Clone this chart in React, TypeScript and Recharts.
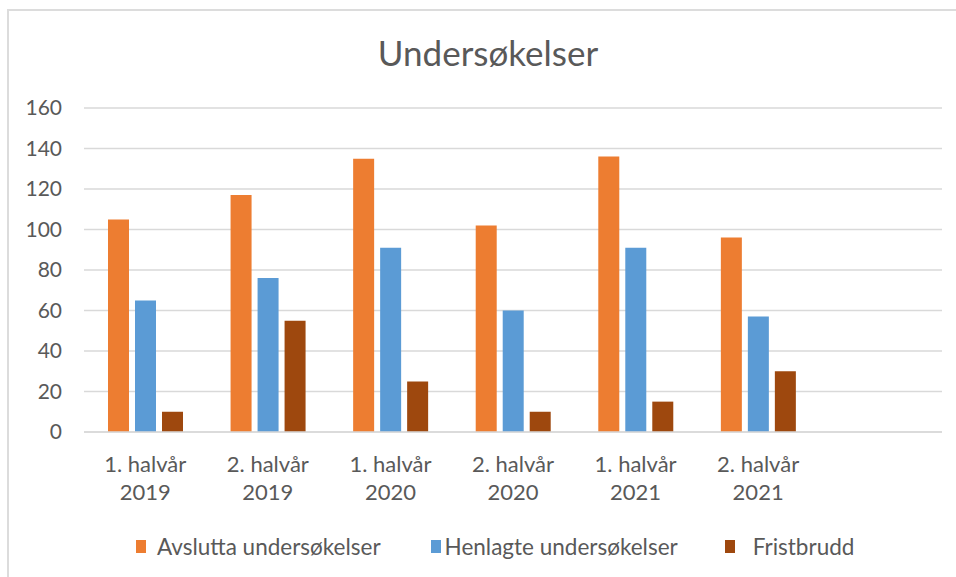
import { BarChart, Bar, XAxis, YAxis, CartesianGrid, Legend } from 'recharts'

const categories = [
  '1. halvår\n2019',
  '2. halvår\n2019',
  '1. halvår\n2020',
  '2. halvår\n2020',
  '1. halvår\n2021',
  '2. halvår\n2021',
  '',
]

const avslutta = [105, 117, 135, 102, 136, 96, null]
const henlagte = [65, 76, 91, 60, 91, 57, null]
const fristbrudd = [10, 55, 25, 10, 15, 30, null]

const seriesNames = ['Avslutta undersøkelser', 'Henlagte undersøkelser', 'Fristbrudd']

const yTicks = [0, 20, 40, 60, 80, 100, 120, 140, 160]

const FONT = 'Lato, "Liberation Sans", sans-serif'
const TEXT = '#595959'

const data = categories.map((c, i) => ({
  label: c,
  avslutta: avslutta[i],
  henlagte: henlagte[i],
  fristbrudd: fristbrudd[i],
}))

// spacing as in the original legend (square -> text, item -> next item)
const iconGap = [11, 4, 18]
const itemGap = [50, 47, 0]

function CategoryTick({ x, y, payload }: any) {
  const lines = String(payload.value).split('\n')
  return (
    <text x={x} y={y} textAnchor="middle" fill={TEXT} fontSize={22} fontFamily={FONT}>
      {lines.map((l, i) => (
        <tspan key={i} x={x} dy={i === 0 ? 32 : 28}>
          {l}
        </tspan>
      ))}
    </text>
  )
}

function LegendContent({ payload }: any) {
  // keep the series order, not the alphabetical one
  const items = [...(payload || [])].sort(
    (a: any, b: any) => seriesNames.indexOf(a.value) - seriesNames.indexOf(b.value)
  )
  return (
    <div style={{ display: 'flex', paddingLeft: 136, fontFamily: FONT, fontSize: 22.5, color: TEXT }}>
      {items.map((entry: any, i: number) => (
        <div key={i} style={{ display: 'flex', alignItems: 'center', marginRight: itemGap[i] }}>
          <span style={{ display: 'inline-block', width: 10, height: 13, background: entry.color, marginRight: iconGap[i] }} />
          <span>{entry.value}</span>
        </div>
      ))}
    </div>
  )
}

export default function App() {
  return (
    <div style={{ position: 'absolute', left: 0, top: 0, width: 956, height: 577, overflow: 'hidden', background: '#fff' }}>
      <div style={{ position: 'absolute', left: 7, top: 9, width: 1000, height: 1000, border: '2px solid #dcdcdc' }} />
      <div
        style={{
          position: 'absolute',
          left: 0,
          width: 976,
          top: 33,
          textAlign: 'center',
          fontFamily: FONT,
          fontSize: 35,
          lineHeight: '38px',
          color: TEXT,
        }}
      >
        Undersøkelser
      </div>
      <div style={{ position: 'absolute', left: 0, top: 0 }}>
        <BarChart
          width={956}
          height={577}
          data={data}
          margin={{ top: 108, right: 14, left: 0, bottom: 0 }}
          barSize={21}
          barGap={6}
        >
          <CartesianGrid vertical={false} stroke="#d9d9d9" strokeWidth={1.5} />
          <XAxis
            dataKey="label"
            height={145}
            interval={0}
            tickLine={false}
            axisLine={{ stroke: '#d9d9d9', strokeWidth: 1.5 }}
            tick={<CategoryTick />}
          />
          <YAxis
            width={84}
            domain={[0, 160]}
            ticks={yTicks}
            tickLine={false}
            axisLine={false}
            tickMargin={16}
            tick={{ fill: TEXT, fontSize: 21, fontFamily: FONT }}
          />
          <Legend
            verticalAlign="middle"
            layout="horizontal"
            wrapperStyle={{ top: 533, left: 0, width: 956 }}
            content={<LegendContent />}
          />
          <Bar dataKey="avslutta" name={seriesNames[0]} fill="#ED7D31" isAnimationActive={false} />
          <Bar dataKey="henlagte" name={seriesNames[1]} fill="#5B9BD5" isAnimationActive={false} />
          <Bar dataKey="fristbrudd" name={seriesNames[2]} fill="#9E480E" isAnimationActive={false} />
        </BarChart>
      </div>
    </div>
  )
}
